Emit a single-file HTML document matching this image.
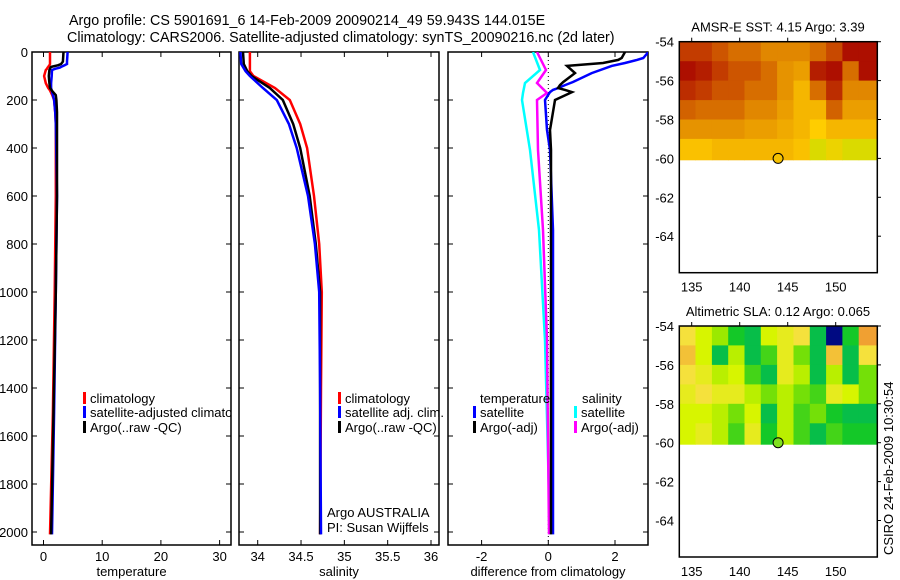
<!DOCTYPE html>
<html><head><meta charset="utf-8">
<style>
html,body{margin:0;padding:0;background:#fff;}
svg{display:block;font-family:"Liberation Sans",sans-serif;}
</style></head>
<body>
<svg id="fig" width="900" height="580" viewBox="0 0 900 580">
<defs>
<clipPath id="c1"><rect x="32" y="52" width="199" height="493"/></clipPath>
<clipPath id="c2"><rect x="239" y="52" width="200" height="493"/></clipPath>
<clipPath id="c3"><rect x="448" y="52" width="200" height="493"/></clipPath>
</defs>
<text x="69" y="25" font-size="14.3">Argo profile: CS 5901691_6 14-Feb-2009 20090214_49 59.943S 144.015E</text>
<text x="67" y="42" font-size="14.3">Climatology: CARS2006. Satellite-adjusted climatology: synTS_20090216.nc (2d later)</text>
<g id="g"></g>
</svg>
<script>
// ---- profile data ----
const tDepth = [0,40,50,55,62,65,70,75,100,130,150,160,180,200,250,300,600,1000,1500,2010];
const tClim  = [1.1,1.1,1.1,1.0,0.8,0.7,0.6,0.4,0.1,0.4,0.8,1.1,1.5,1.8,2.0,2.1,2.1,1.9,1.6,1.1];
const tSat   = [4.1,4.0,4.0,3.6,3.0,2.8,2.0,1.45,1.4,1.3,1.3,1.4,1.6,1.8,2.0,2.1,2.3,2.1,1.8,1.45];
const tArgo  = [3.4,3.3,3.0,2.5,1.3,1.2,1.1,1.0,0.9,1.0,1.1,1.4,2.1,2.2,2.3,2.3,2.3,2.1,1.7,1.3];
const sDepth = [0,50,80,100,150,200,300,400,600,800,1000,1400,2010];
const sClim  = [33.91,33.91,33.91,33.95,34.20,34.37,34.49,34.57,34.65,34.71,34.74,34.73,34.72];
const sSat   = [33.80,33.81,33.86,33.91,34.06,34.22,34.36,34.45,34.58,34.66,34.71,34.72,34.73];
const sArgo  = [33.83,33.84,33.88,33.93,34.14,34.29,34.41,34.49,34.60,34.67,34.72,34.72,34.72];
const dDepthT = [0,25,33,46,58,88,125,138,150,158,167,200,325,408,742,1200,2010];
const dTSat   = [3.0,2.85,2.66,2.3,1.9,1.3,0.74,0.5,0.3,0.14,0.05,-0.1,-0.04,0.05,0.14,0.14,0.14];
const dTArgo  = [2.3,2.2,2.1,1.64,0.56,0.8,0.45,0.35,0.29,0.5,0.71,0.2,0.05,0.08,0.08,0.08,0.08];
const dDepthS = [0,75,129,171,200,408,742,1200,2010];
const dSSat   = [-0.46,-0.25,-0.7,-0.76,-0.79,-0.55,-0.28,-0.1,0.05];
const dSArgo  = [-0.34,-0.07,-0.34,-0.04,-0.34,-0.31,-0.16,-0.04,0.02];
const depthTicks = [0,200,400,600,800,1000,1200,1400,1600,1800,2000];
const tTicks = [0,10,20,30];
const sTicks = [34,34.5,35,35.5,36];
const sTickLabels = ["34","34.5","35","35.5","36"];
const dTicks = [-2,0,2];
// ---- map data (rows lat -54.5..-59.5, cols lon 134..154) ----
const mapLatRows = [-54,-55,-56,-57,-58,-59];
const mapLonCols = [133.7,135.4,137.1,138.8,140.5,142.2,143.9,145.6,147.3,149.0,150.7,152.4];
const sstGrid = [
 [0.8,0.8,0.7,0.6,0.6,0.5,0.5,0.5,0.6,0.75,0.95,0.95],
 [0.95,0.9,0.8,0.7,0.7,0.6,0.45,0.4,0.9,0.95,0.6,0.95],
 [0.85,0.8,0.7,0.7,0.6,0.6,0.45,0.3,0.6,0.85,0.5,0.5],
 [0.65,0.6,0.6,0.6,0.5,0.5,0.4,0.3,0.3,0.65,0.4,0.4],
 [0.45,0.45,0.45,0.45,0.4,0.4,0.35,0.3,0.2,0.3,0.3,0.3],
 [0.25,0.25,0.3,0.3,0.3,0.3,0.3,0.25,0.1,0.15,0.1,0.1]];
const slaGrid = [
 [0.3,0.1,-0.1,-0.4,-0.5,0.1,0.2,0.3,-0.5,-1.0,-0.4,0.5],
 [0.4,0.1,-0.5,0.0,-0.5,-0.3,0.2,-0.2,-0.5,0.4,-0.5,0.3],
 [0.3,0.2,0.0,0.1,-0.3,-0.5,0.2,0.0,-0.5,0.0,-0.5,-0.2],
 [0.2,0.3,0.2,0.2,0.0,-0.2,0.0,-0.2,-0.3,0.2,0.1,-0.2],
 [0.1,0.1,0.0,-0.2,0.1,-0.5,0.0,-0.3,-0.2,-0.4,-0.5,-0.5],
 [0.1,0.2,0.0,-0.3,0.2,-0.4,0.0,-0.3,-0.5,-0.3,-0.4,-0.4]];
const argoLon = 144.0, argoLat = -60.0;
const mapLatTicks = [-54,-56,-58,-60,-62,-64];
const mapLonTicks = [135,140,145,150];

const NS="http://www.w3.org/2000/svg";
const G=document.getElementById('g');
function mk(tag,attrs,parent){const e=document.createElementNS(NS,tag);for(const k in attrs)e.setAttribute(k,attrs[k]);(parent||G).appendChild(e);return e;}
function yD(d){return 52+d*0.24;}
function lin(d0,d1,p0,p1){return v=>p0+(v-d0)*(p1-p0)/(d1-d0);}
const xT=lin(0,10,43.5,102.2), xS=lin(34,36,257.7,431), xDf=lin(0,2,548.3,615);

function line(xs,ds,xf,color,clip,name,w){
  const pts=xs.map((v,i)=>xf(v).toFixed(1)+','+yD(ds[i]).toFixed(1)).join(' ');
  const p=mk('polyline',{points:pts,fill:'none',stroke:color,'stroke-width':w||2.5,'clip-path':'url(#'+clip+')'});
  
  
}
function panel(x0,x1,ticks,labels,xf,xlabel,name,showY){
  const r=mk('rect',{x:x0,y:52,width:x1-x0,height:493,fill:'none',stroke:'#000','stroke-width':1.5});
  
  
  ticks.forEach((t,i)=>{const x=xf(t);
    mk('line',{x1:x,y1:52,x2:x,y2:57,stroke:'#000'});mk('line',{x1:x,y1:545,x2:x,y2:540,stroke:'#000'});
    const tx=mk('text',{x:x,y:561,'font-size':13,'text-anchor':'middle'});tx.textContent=labels[i];
    
    });
  depthTicks.forEach(d=>{const y=yD(d);
    mk('line',{x1:x0,y1:y,x2:x0+5,y2:y,stroke:'#000'});mk('line',{x1:x1,y1:y,x2:x1-5,y2:y,stroke:'#000'});
    if(showY){const tx=mk('text',{x:x0-4,y:y+5,'font-size':13,'text-anchor':'end'});tx.textContent=d;
      
      }});
  const xl=mk('text',{x:(x0+x1)/2,y:576,'font-size':13,'text-anchor':'middle'});xl.textContent=xlabel;
  
  
}
panel(32,231,tTicks,tTicks.map(String),xT,'temperature','temperature-panel',true);
panel(239,439,sTicks,sTickLabels,xS,'salinity','salinity-panel',false);
panel(448,648,dTicks,dTicks.map(String),xDf,'difference from climatology','difference-panel',false);
const zl=mk('line',{x1:xDf(0),y1:52,x2:xDf(0),y2:545,stroke:'#000','stroke-dasharray':'1,3'});



line(tClim,tDepth,xT,'#f00','c1','temp-climatology-line');
line(tSat,tDepth,xT,'#00f','c1','temp-satellite-line');
line(tArgo,tDepth,xT,'#000','c1','temp-argo-line');
line(sClim,sDepth,xS,'#f00','c2','sal-climatology-line');
line(sArgo,sDepth,xS,'#000','c2','sal-argo-line');
line(sSat,sDepth,xS,'#00f','c2','sal-satellite-line');
line(dSSat,dDepthS,xDf,'#0ff','c3','diff-sal-satellite-line');
line(dSArgo,dDepthS,xDf,'#f0f','c3','diff-sal-argo-line');
line(dTSat,dDepthT,xDf,'#00f','c3','diff-temp-satellite-line');
line(dTArgo,dDepthT,xDf,'#000','c3','diff-temp-argo-line');

function legend(x,y,color,label,clip){
  mk('rect',{x:x-1,y:y-6,width:3,height:12,fill:color});
  const t=mk('text',{x:x+6,y:y+5,'font-size':13,'clip-path':clip?'url(#'+clip+')':''});t.textContent=label;
  
  
}
legend(84,398,'#f00','climatology','c1');legend(84,412,'#00f','satellite-adjusted climatology','c1');legend(84,427,'#000','Argo(..raw -QC)','c1');
legend(339,398,'#f00','climatology');legend(339,412,'#00f','satellite adj. clim.');legend(339,427,'#000','Argo(..raw -QC)');
let t1=mk('text',{x:480,y:403,'font-size':13});t1.textContent='temperature';


let t2=mk('text',{x:582,y:403,'font-size':13});t2.textContent='salinity';


legend(474,412,'#00f','satellite');legend(474,427,'#000','Argo(-adj)');
legend(575,412,'#0ff','satellite');legend(575,427,'#f0f','Argo(-adj)');
let a1=mk('text',{x:327,y:517,'font-size':13});a1.textContent='Argo AUSTRALIA';


let a2=mk('text',{x:327,y:532,'font-size':13});a2.textContent='PI: Susan Wijffels';



// ---- maps ----
function lerpC(stops,v){
  if(v<=stops[0][0])return stops[0][1];
  for(let i=1;i<stops.length;i++){if(v<=stops[i][0]){const a=stops[i-1],b=stops[i],f=(v-a[0])/(b[0]-a[0]);
    return 'rgb('+[0,1,2].map(k=>Math.round(a[1][k]+(b[1][k]-a[1][k])*f)).join(',')+')';}}
  return 'rgb('+stops[stops.length-1][1].join(',')+')';
}
function toRgb(c){return typeof c==='string'?c:'rgb('+c.join(',')+')';}
const sstStops=[[0,[180,230,0]],[0.2,[255,205,0]],[0.5,[225,135,0]],[0.8,[195,60,0]],[1,[165,0,0]]];
const slaStops=[[-1,[0,10,130]],[-0.75,[0,160,230]],[-0.55,[0,185,90]],[-0.4,[20,200,40]],[-0.15,[140,230,0]],[0.1,[215,245,0]],[0.3,[245,225,60]],[0.5,[240,160,50]]];
function mapPanel(top,grid,stops,title,name,dotColor){
  const xL=lin(135,150,691.7,835.7), yL=lin(-54,-64,top,top+194.5);
  const cw=xL(mapLonCols[1])-xL(mapLonCols[0]);
  grid.forEach((row,ri)=>row.forEach((v,ci)=>{
    const x=xL(mapLonCols[ci]), y=yL(mapLatRows[ri]);
    const w=(ci==row.length-1)?877.3-x:cw+0.5;
    const h=(ri==grid.length-1)?yL(-60.1)-y:yL(mapLatRows[ri]-1)-y+0.5;
    const r=mk('rect',{x:x.toFixed(1),y:y.toFixed(1),width:w.toFixed(1),height:h.toFixed(1),fill:toRgb(lerpC(stops,v))});
    
    
  }));
  const b=mk('rect',{x:679.3,y:top,width:198,height:231,fill:'none',stroke:'#000','stroke-width':1.5});
  
  
  mapLatTicks.forEach(l=>{const y=yL(l);
    mk('line',{x1:877.3,y1:y,x2:881,y2:y,stroke:'#000'});
    const t=mk('text',{x:674,y:y+5,'font-size':13,'text-anchor':'end'});t.textContent=l;
    
    });
  mapLonTicks.forEach(l=>{const x=xL(l);
    mk('line',{x1:x,y1:top,x2:x,y2:top-4,stroke:'#000'});
    const t=mk('text',{x:x,y:top+250,'font-size':13,'text-anchor':'middle'});t.textContent=l;
    
    });
  const c=mk('circle',{cx:xL(argoLon),cy:yL(argoLat),r:5,fill:dotColor,stroke:'#000','stroke-width':1});
  
  
  const tt=mk('text',{x:778,y:top-10,'font-size':13,'text-anchor':'middle'});tt.textContent=title;
  
  
}
mapPanel(41.7,sstGrid,sstStops,'AMSR-E SST: 4.15 Argo: 3.39','sst-map','#f5c000');
mapPanel(326,slaGrid,slaStops,'Altimetric SLA: 0.12 Argo: 0.065','sla-map','#80e020');
const cs=mk('text',{x:0,y:0,'font-size':13,transform:'translate(893,555) rotate(-90)'});cs.textContent='CSIRO 24-Feb-2009 10:30:54';


</script>
</body></html>
